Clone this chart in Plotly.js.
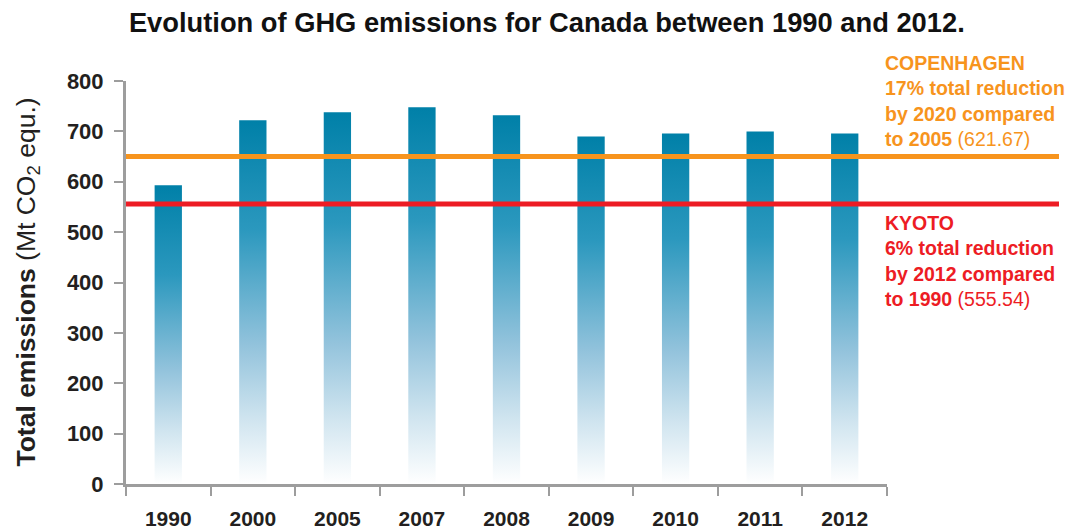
<!DOCTYPE html>
<html>
<head>
<meta charset="utf-8">
<script src="https://cdn.plot.ly/plotly-3.0.1.min.js"></script>
<style>html,body{margin:0;padding:0;background:#fff;}</style>
</head>
<body>
<div id="chart" style="width:1068px;height:529px;"></div>
<script>
const years = ["1990", "2000", "2005", "2007", "2008", "2009", "2010", "2011", "2012"];
const emissions = [593, 722, 738, 748, 732, 690, 696, 700, 696];
const yTicks = [0, 100, 200, 300, 400, 500, 600, 700, 800];
const copenhagenLevel = 650;
const kyotoLevel = 556;
const copenhagenText = ["COPENHAGEN", "17% total reduction", "by 2020 compared", "to 2005", "(621.67)"];
const kyotoText = ["KYOTO", "6% total reduction", "by 2012 compared", "to 1990", "(555.54)"];

const FONT = "Liberation Sans, Arial, sans-serif";
const ORANGE = "#f7941d";
const RED = "#ed1c24";
const GRAY = "#9d9d9d";
const DARK = "#231f20";

function block(t) {
  return "<b>" + t[0] + "</b><br><b>" + t[1] + "</b><br><b>" + t[2] + "</b><br><b>" + t[3] + "</b> " + t[4];
}

const data = [{
  type: "bar",
  x: years,
  y: emissions,
  marker: {color: "#0080a8", line: {width: 0}},
  hoverinfo: "x+y"
}];

const layout = {
  width: 1068,
  height: 529,
  margin: {l: 126, r: 181, t: 81, b: 45},
  paper_bgcolor: "#ffffff",
  plot_bgcolor: "#ffffff",
  bargap: 0.677,
  showlegend: false,
  font: {family: FONT, color: DARK},
  title: {
    text: "<b>Evolution of GHG emissions for Canada between 1990 and 2012.</b>",
    font: {family: FONT, size: 27.3, color: "#111111"},
    xref: "container", yref: "container",
    x: 0.512, xanchor: "center",
    y: 0.958, yanchor: "middle"
  },
  xaxis: {
    type: "category",
    tickson: "boundaries",
    ticks: "outside",
    ticklen: 9,
    tickwidth: 2,
    tickcolor: GRAY,
    showline: true,
    linecolor: GRAY,
    linewidth: 3,
    showgrid: false,
    zeroline: false,
    ticklabelstandoff: 14,
    tickfont: {family: FONT, size: 21, color: DARK, weight: "bold"},
    fixedrange: true
  },
  yaxis: {
    range: [0, 800],
    tickvals: yTicks,
    ticks: "outside",
    ticklen: 9,
    tickwidth: 2,
    tickcolor: GRAY,
    showline: true,
    linecolor: GRAY,
    linewidth: 3,
    showgrid: false,
    zeroline: false,
    ticklabelstandoff: 6,
    tickfont: {family: FONT, size: 22, color: DARK, weight: "bold"},
    fixedrange: true
  },
  shapes: [
    {type: "line", layer: "above", xref: "paper", yref: "y", x0: 0, x1: 1.226, y0: copenhagenLevel, y1: copenhagenLevel,
     line: {color: ORANGE, width: 5}},
    {type: "line", layer: "above", xref: "paper", yref: "y", x0: 0, x1: 1.226, y0: kyotoLevel, y1: kyotoLevel,
     line: {color: RED, width: 5}}
  ],
  annotations: [
    {
      text: "<b>Total emissions</b> (Mt CO<sub>2</sub> equ.)",
      xref: "paper", yref: "paper", x: -0.130, y: 0.5,
      xanchor: "center", yanchor: "middle", textangle: -90, showarrow: false,
      font: {family: FONT, size: 26.5, color: DARK}
    },
    {
      text: block(copenhagenText),
      xref: "paper", yref: "paper", x: 0.995, y: 0.950,
      xanchor: "left", yanchor: "middle", align: "left", showarrow: false,
      font: {family: FONT, size: 19.5, color: ORANGE}
    },
    {
      text: block(kyotoText),
      xref: "paper", yref: "paper", x: 0.995, y: 0.553,
      xanchor: "left", yanchor: "middle", align: "left", showarrow: false,
      font: {family: FONT, size: 19.5, color: RED}
    }
  ]
};

Plotly.newPlot("chart", data, layout, {displayModeBar: false, staticPlot: true}).then(function (gd) {
  const svg = gd.querySelector(".main-svg");
  const ns = "http://www.w3.org/2000/svg";
  let defs = svg.querySelector("defs");
  if (!defs) { defs = document.createElementNS(ns, "defs"); svg.insertBefore(defs, svg.firstChild); }
  const grad = document.createElementNS(ns, "linearGradient");
  grad.setAttribute("id", "barGradient");
  grad.setAttribute("x1", "0"); grad.setAttribute("y1", "0");
  grad.setAttribute("x2", "0"); grad.setAttribute("y2", "1");
  [["0", "#0080a8"], ["0.3", "#2b98be"], ["0.62", "#93c3dc"], ["0.82", "#cfe4ef"], ["1", "#ffffff"]].forEach(function (s) {
    const st = document.createElementNS(ns, "stop");
    st.setAttribute("offset", s[0]);
    st.setAttribute("stop-color", s[1]);
    grad.appendChild(st);
  });
  defs.appendChild(grad);
  gd.querySelectorAll(".bars .point path").forEach(function (p) {
    p.style.fill = "url(#barGradient)";
  });
});
</script>
</body>
</html>
